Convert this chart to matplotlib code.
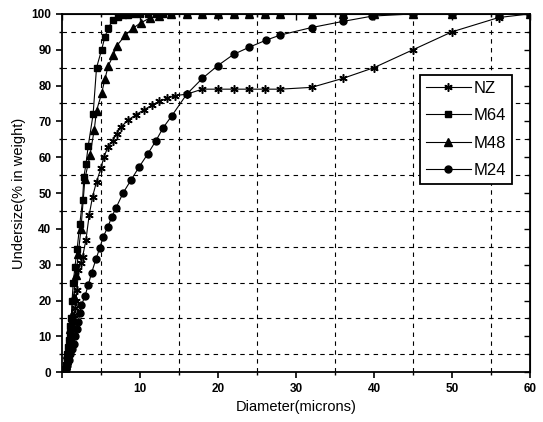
import matplotlib
matplotlib.use("Agg")
import matplotlib.pyplot as plt
from matplotlib.ticker import MultipleLocator

plt.rcParams['font.family'] = ['Liberation Sans', 'DejaVu Sans']

# ---- data ----
nz_x = [0.3, 0.4, 0.5, 0.6, 0.7, 0.8, 0.9, 1.0, 1.1, 1.2, 1.3, 1.4, 1.5, 1.6, 1.7, 1.8, 1.95,
        2.1, 2.4, 2.65, 3.08, 3.5, 3.93, 4.44, 5.0, 5.4, 5.9, 6.5, 7.0, 7.6, 8.5, 9.5, 10.5,
        11.5, 12.5, 13.5, 14.5, 16, 18, 20, 22, 24, 26, 28, 32, 36, 40, 45, 50, 56, 60]
nz_y = [0, 0.5, 1, 2, 3, 4, 5, 6, 7.5, 9, 10.5, 12, 14, 16, 18, 20, 23,
        28.5, 30.5, 32.2, 36.9, 43.9, 49, 53.2, 56.9, 60.2, 62.8, 64.6, 66.5, 68.5, 70.4, 71.9, 73.2,
        74.5, 75.6, 76.5, 77.2, 77.6, 79, 79, 79, 79, 79, 79, 79.5, 82, 85, 90, 95, 99, 100]

m64_x = [0.3, 0.4, 0.5, 0.6, 0.7, 0.8, 0.9, 1.0, 1.1, 1.2, 1.3, 1.45, 1.67, 1.96, 2.3, 2.65,
         2.82, 3.08, 3.37, 4.0, 4.44, 5.09, 5.5, 5.94, 6.5, 7.2, 7.8, 8.5, 9.2, 10, 11, 12,
         13, 14, 16, 18, 20, 22, 24, 26, 28, 32, 36, 40, 45, 50, 56, 60]
m64_y = [0, 1, 2, 3.5, 5, 7, 9, 11, 13, 15, 20, 24.8, 29.4, 34.5, 41.5, 48,
         54.6, 58, 63.1, 72, 85, 90, 93.5, 96, 98.3, 99.2, 99.6, 99.8, 100, 100, 100, 100,
         100, 100, 100, 100, 100, 100, 100, 100, 100, 100, 100, 100, 100, 100, 100, 100]

m48_x = [0.3, 0.4, 0.5, 0.6, 0.7, 0.8, 0.9, 1.0, 1.1, 1.2, 1.3, 1.5, 1.8, 2.1, 2.44, 2.95,
         3.6, 4.14, 4.44, 5.09, 5.5, 5.94, 6.58, 7.0, 8.1, 9.1, 10.1, 11.3, 12.5, 14, 16,
         18, 20, 22, 24, 26, 28, 32, 36, 40, 45, 50, 56, 60]
m48_y = [0, 1, 2, 3.5, 5, 6.5, 8, 10, 12, 14, 16, 21, 27, 33, 40, 54,
         60.6, 67.6, 73, 77.8, 81.7, 85.5, 88.4, 91, 94, 96, 97.5, 98.9, 99.5, 100, 100,
         100, 100, 100, 100, 100, 100, 100, 100, 100, 100, 100, 100, 100]

m24_x = [0.3, 0.5, 0.7, 0.9, 1.1, 1.3, 1.5, 1.7, 1.9, 2.1, 2.3, 2.5, 2.95, 3.37, 3.8, 4.36,
         4.87, 5.3, 5.9, 6.4, 6.9, 7.86, 8.85, 9.9, 11.0, 12.05, 13, 14.1, 16, 18, 20, 22, 24,
         26.2, 28, 32, 36, 39.8, 45, 50, 56, 60]
m24_y = [0, 1, 2, 3.5, 5, 6.5, 8, 10, 12, 14, 16.5, 18.7, 21.2, 24.3, 27.7, 31.5,
         34.8, 37.8, 40.6, 43.4, 45.7, 50.1, 53.6, 57.3, 60.9, 64.6, 68.3, 71.6, 77.6, 82, 85.6,
         88.7, 90.7, 92.7, 94.1, 96.2, 97.9, 99.4, 100, 100, 100, 100]

x_ticks = [0, 10, 20, 30, 40, 50, 60]
x_tick_labels = ['', '10', '20', '30', '40', '50', '60']
y_ticks = [0, 10, 20, 30, 40, 50, 60, 70, 80, 90, 100]

fig = plt.figure(figsize=(5.43, 4.22), dpi=100)
ax = fig.add_axes([0.114, 0.118, 0.862, 0.849])

lw = 0.8
ax.plot(nz_x, nz_y, color='black', lw=lw, marker=(6, 2, 0), ms=6, mew=1.1, label='NZ')
ax.plot(m64_x, m64_y, color='black', lw=lw, marker='s', ms=5, label='M64')
ax.plot(m48_x, m48_y, color='black', lw=lw, marker='^', ms=5.5, label='M48')
ax.plot(m24_x, m24_y, color='black', lw=lw, marker='o', ms=5, label='M24')

ax.set_xlim(0, 60)
ax.set_ylim(0, 100)
ax.set_xticks(x_ticks)
ax.set_xticklabels(x_tick_labels)
ax.set_yticks(y_ticks)
ax.xaxis.set_minor_locator(MultipleLocator(5))
ax.yaxis.set_minor_locator(MultipleLocator(5))
ax.grid(which='minor', color='black', linestyle=(0, (4, 4)), linewidth=0.8)
ax.grid(which='major', visible=False)
ax.tick_params(which='major', direction='out', length=4, width=1.2, labelsize=8.5)
ax.tick_params(which='minor', direction='out', length=2.5, width=1)
for lab in ax.get_xticklabels() + ax.get_yticklabels():
    lab.set_fontweight('bold')
for s in ax.spines.values():
    s.set_linewidth(1.3)

secx = ax.secondary_xaxis('top')
secx.set_xticks(x_ticks)
secx.xaxis.set_minor_locator(MultipleLocator(5))
secx.tick_params(which='both', direction='in', labeltop=False, length=4, width=1)
secx.tick_params(which='minor', length=2.5)
secy = ax.secondary_yaxis('right')
secy.set_yticks(y_ticks)
secy.yaxis.set_minor_locator(MultipleLocator(5))
secy.tick_params(which='both', direction='in', labelright=False, length=4, width=1)
secy.tick_params(which='minor', length=2.5)

ax.set_xlabel('Diameter(microns)', fontsize=10.5)
ax.set_ylabel('Undersize(% in weight)', fontsize=10.5)

leg = ax.legend(loc='upper right', bbox_to_anchor=(0.962, 0.83), fontsize=12,
                frameon=True, fancybox=False, edgecolor='black', handlelength=2.7,
                labelspacing=0.75, borderpad=0.35, handletextpad=0.2, borderaxespad=0)
leg.get_frame().set_linewidth(1.3)
leg.get_frame().set_alpha(1)

fig.savefig('out.png', dpi=100)
